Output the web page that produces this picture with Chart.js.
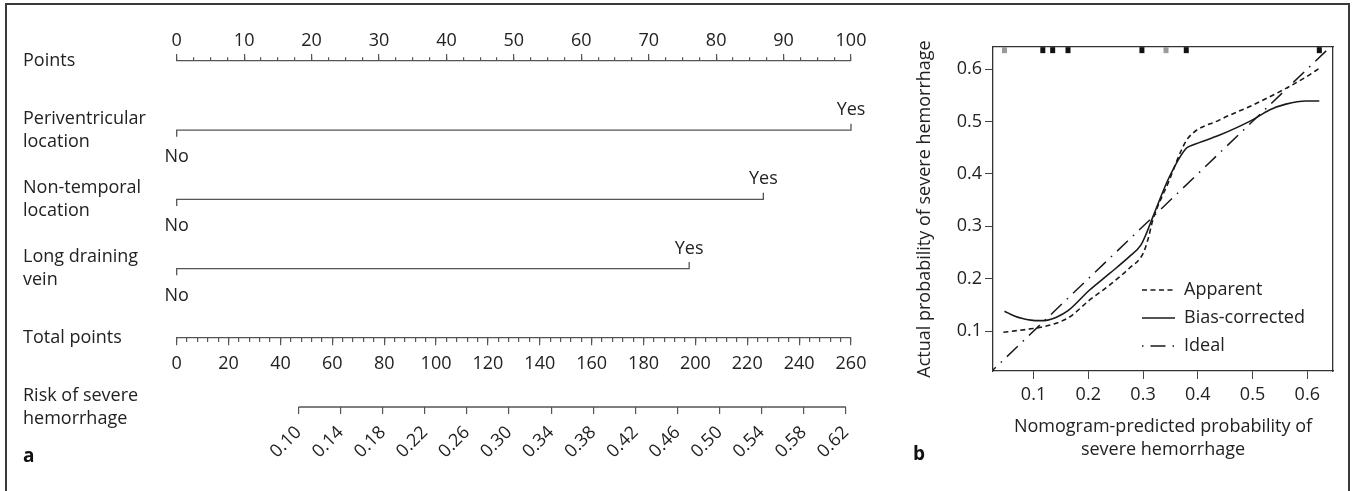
<!DOCTYPE html>
<html>
<head>
<meta charset="utf-8">
<title>Nomogram and calibration curve</title>
<script src="https://cdn.jsdelivr.net/npm/chart.js@4.4.1/dist/chart.umd.min.js"></script>
<style>
  html, body { margin: 0; padding: 0; background: #fff; overflow: hidden; }
  #wrap { position: relative; width: 1355px; height: 491px; }
  #frame { position: absolute; left: 5px; top: 3px; width: 1345px; height: 500px; border: 2px solid #3a3a3a; box-sizing: border-box; }
  canvas { position: absolute; top: 0; }
  #chartA { left: 0; }
  #chartB { left: 900px; }
  .panel { position: absolute; font: bold 19px 'Open Sans', sans-serif; color: #111; line-height: 20px; }
</style>
</head>
<body>
<div id="wrap">
  <div id="frame"></div>
  <canvas id="chartA" width="900" height="491"></canvas>
  <canvas id="chartB" width="455" height="491"></canvas>
  <div class="panel" style="left:23px; top:445px;">a</div>
  <div class="panel" style="left:913px; top:443px;">b</div>
</div>
<script>
// ---- panel a: nomogram ----
var rowLabels = ['Points', ['Periventricular', 'location'], ['Non-temporal', 'location'],
                 ['Long draining', 'vein'], 'Total points', ['Risk of severe', 'hemorrhage']];
var pointsTicks = [0, 10, 20, 30, 40, 50, 60, 70, 80, 90, 100];
var factorLevels = ['No', 'Yes'];
var factorYesPoints = [100, 87, 76];          // points for "Yes" (rows 1-3), "No" = 0
var totalTicks = [0, 20, 40, 60, 80, 100, 120, 140, 160, 180, 200, 220, 240, 260];
var riskTicks = [0.10, 0.14, 0.18, 0.22, 0.26, 0.30, 0.34, 0.38, 0.42, 0.46, 0.50, 0.54, 0.58, 0.62];
var riskTotalPoints = [47, 258];               // total points under the first and last risk tick

// ---- panel b: calibration ----
var xTicksB = [0.1, 0.2, 0.3, 0.4, 0.5, 0.6];
var yTicksB = [0.1, 0.2, 0.3, 0.4, 0.5, 0.6];
var apparentX = [0.045, 0.070, 0.099, 0.120, 0.141, 0.166, 0.202, 0.239, 0.275, 0.300, 0.309, 0.318, 0.348, 0.370, 0.382, 0.440, 0.500, 0.561, 0.598, 0.623];
var apparentY = [0.098, 0.101, 0.105, 0.109, 0.115, 0.127, 0.159, 0.188, 0.220, 0.248, 0.275, 0.312, 0.388, 0.445, 0.468, 0.503, 0.531, 0.563, 0.585, 0.602];
var biasX = [0.047, 0.065, 0.080, 0.095, 0.111, 0.126, 0.141, 0.163, 0.202, 0.239, 0.275, 0.296, 0.306, 0.318, 0.348, 0.379, 0.391, 0.440, 0.500, 0.531, 0.561, 0.598, 0.622];
var biasY = [0.138, 0.129, 0.124, 0.121, 0.120, 0.121, 0.126, 0.139, 0.178, 0.210, 0.242, 0.264, 0.286, 0.318, 0.394, 0.449, 0.455, 0.474, 0.503, 0.522, 0.533, 0.539, 0.539];
var idealXY = [0, 0.7];
var rugX = [0.047, 0.117, 0.135, 0.163, 0.298, 0.342, 0.379, 0.622];
var legendNames = ['Apparent', 'Bias-corrected', 'Ideal'];

// styles
var textColor = '#222';
var axisColor = '#555';
var lineColor = '#1a1a1a';
var rugLight = [0, 5];
Chart.defaults.font.family = "'Open Sans', sans-serif";
Chart.defaults.font.size = 18;
Chart.defaults.color = textColor;

function xy(xs, ys) {
    return xs.map(function(x, i) { return {x: x, y: ys[i]}; });
}
function fixedTicks(list) {
    return function(scale) {
        scale.ticks = list.map(function(v) { return {value: v}; });
    };
}

// risk scale lined up with the total points scale
var riskSlope = (riskTicks[riskTicks.length - 1] - riskTicks[0]) / (riskTotalPoints[1] - riskTotalPoints[0]);
var riskMin = riskTicks[0] - riskTotalPoints[0] * riskSlope;
var riskMax = riskTicks[0] + (totalTicks[totalTicks.length - 1] - riskTotalPoints[0]) * riskSlope;

var rowTick = 0.095; // end tick length in row units

var datasetsA = factorYesPoints.map(function(v, i) {
    var row = i + 1;
    return {
        xAxisID: 'xPts', yAxisID: 'y',
        data: [{x: 0, y: row + rowTick}, {x: 0, y: row}, {x: v, y: row}, {x: v, y: row - rowTick}],
        borderColor: axisColor, borderWidth: 1.3, pointRadius: 0, showLine: true, clip: false
    };
});
datasetsA.push({
    xAxisID: 'xRisk', yAxisID: 'y',
    data: [{x: riskTicks[0], y: 5}, {x: riskTicks[riskTicks.length - 1], y: 5}],
    borderColor: axisColor, borderWidth: 1.3, pointRadius: 0, showLine: true, clip: false
});

// "No" / "Yes" labels at the ends of each factor line
var levelLabels = {
    id: 'levelLabels',
    afterDatasetsDraw: function(chart) {
        var ctx = chart.ctx, xs = chart.scales.xPts, ys = chart.scales.y;
        ctx.save();
        ctx.font = "18px 'Open Sans', sans-serif";
        ctx.fillStyle = textColor;
        ctx.textAlign = 'center';
        ctx.textBaseline = 'alphabetic';
        factorYesPoints.forEach(function(v, i) {
            var yPix = ys.getPixelForValue(i + 1);
            ctx.fillText(factorLevels[0], xs.getPixelForValue(0), yPix + 32);
            ctx.fillText(factorLevels[1], xs.getPixelForValue(v), yPix - 15);
        });
        ctx.restore();
    }
};

var gridA = function(len) {
    return {drawOnChartArea: false, tickLength: len, color: axisColor, lineWidth: 1.2};
};

new Chart(document.getElementById('chartA'), {
    type: 'scatter',
    data: {datasets: datasetsA},
    plugins: [levelLabels],
    options: {
        responsive: false,
        animation: false,
        events: [],
        layout: {padding: {left: 23, right: 49, top: 0, bottom: 84}},
        plugins: {legend: {display: false}, tooltip: {enabled: false}},
        scales: {
            y: {
                type: 'linear', position: 'left', min: 0, max: 5, reverse: true,
                afterBuildTicks: function(s) { s.ticks = rowLabels.map(function(_, i) { return {value: i}; }); },
                afterFit: function(s) { s.width = 153.7; },
                ticks: {
                    crossAlign: 'far', autoSkip: false, color: textColor,
                    font: {size: 18, lineHeight: 1.28},
                    callback: function(v, i) { return rowLabels[i]; }
                },
                grid: {display: false},
                border: {display: false}
            },
            xPts: {
                type: 'linear', position: 'top', weight: 1, min: 0, max: 100,
                afterBuildTicks: fixedTicks(pointsTicks),
                afterFit: function(s) { s.height = 61; },
                ticks: {autoSkip: false, maxRotation: 0, padding: 2, color: textColor},
                grid: gridA(7),
                border: {display: true, color: axisColor, width: 1.3}
            },
            xPtsMinor: {
                type: 'linear', position: 'top', weight: 0, min: 0, max: 100,
                afterFit: function(s) { s.height = 0; },
                ticks: {display: false, stepSize: 2.5},
                grid: gridA(3.7),
                border: {display: false}
            },
            xTot: {
                type: 'linear', position: {y: 4}, min: 0, max: 260,
                afterBuildTicks: fixedTicks(totalTicks),
                ticks: {autoSkip: false, maxRotation: 0, padding: 8, color: textColor},
                grid: gridA(7),
                border: {display: true, color: axisColor, width: 1.3}
            },
            xTotMinor: {
                type: 'linear', position: {y: 4}, min: 0, max: 260,
                ticks: {display: false, stepSize: 4},
                grid: gridA(4),
                border: {display: false}
            },
            xRisk: {
                type: 'linear', position: {y: 5}, min: riskMin, max: riskMax,
                afterBuildTicks: fixedTicks(riskTicks),
                ticks: {
                    autoSkip: false, minRotation: 45, maxRotation: 45, padding: 8, color: textColor,
                    callback: function(v) { return v.toFixed(2); }
                },
                grid: gridA(7),
                border: {display: false}
            }
        }
    }
});

// ---- panel b chart ----
var X_MIN_B = 0.026, X_MAX_B = 0.647, Y_MIN_B = 0.024, Y_MAX_B = 0.642;
var rugY = Y_MAX_B - 0.006;

var legendPlacer = {
    id: 'legendPlacer',
    afterLayout: function(chart) {
        var lg = chart.legend, area = chart.chartArea;
        lg.left = area.left + 139;
        lg.right = area.right;
        lg.top = area.top + 224;
        lg.bottom = chart.height;
        lg.width = lg.right - lg.left;
        lg.height = lg.bottom - lg.top;
    }
};

var boxBorder = {display: true, color: '#333', width: 1.3};

new Chart(document.getElementById('chartB'), {
    type: 'scatter',
    data: {
        datasets: [{
            label: legendNames[0],
            data: xy(apparentX, apparentY),
            showLine: true, borderColor: lineColor, borderWidth: 1.6, borderDash: [5, 3.5],
            pointRadius: 0, cubicInterpolationMode: 'monotone'
        }, {
            label: legendNames[1],
            data: xy(biasX, biasY),
            showLine: true, borderColor: lineColor, borderWidth: 1.6,
            pointRadius: 0, cubicInterpolationMode: 'monotone'
        }, {
            label: legendNames[2],
            data: xy(idealXY, idealXY),
            showLine: true, borderColor: lineColor, borderWidth: 1.5, borderDash: [15, 7, 1.5, 7], borderDashOffset: 22,
            pointRadius: 0
        }, {
            data: rugX.map(function(x) { return {x: x, y: rugY}; }),
            showLine: false, pointStyle: 'line', rotation: 90, pointRadius: 3,
            borderWidth: 5, pointBorderWidth: 5, clip: false,
            pointBorderColor: function(c) { return rugLight.indexOf(c.dataIndex) >= 0 ? '#9a9a9a' : '#111'; }
        }]
    },
    plugins: [legendPlacer],
    options: {
        responsive: false,
        animation: false,
        events: [],
        layout: {padding: 0},
        plugins: {
            tooltip: {enabled: false},
            legend: {
                display: true, position: 'chartArea', align: 'start',
                labels: {
                    usePointStyle: true, pointStyle: 'line', pointStyleWidth: 33,
                    padding: 10, color: textColor, font: {size: 18},
                    generateLabels: function(chart) {
                        var items = Chart.defaults.plugins.legend.labels.generateLabels(chart);
                        return items.map(function(it) {
                            var ds = chart.data.datasets[it.datasetIndex];
                            it.lineDash = ds.borderDash || [];
                            it.lineDashOffset = ds.borderDashOffset || 0;
                            it.lineWidth = ds.borderWidth;
                            it.strokeStyle = ds.borderColor;
                            return it;
                        });
                    },
                    filter: function(item) { return item.datasetIndex < 3; }
                }
            }
        },
        scales: {
            x: {
                type: 'linear', position: 'bottom', min: X_MIN_B, max: X_MAX_B,
                afterBuildTicks: fixedTicks(xTicksB),
                afterFit: function(s) { s.height = 120; },
                ticks: {autoSkip: false, maxRotation: 0, padding: 5, color: textColor,
                        callback: function(v) { return v.toFixed(1); }},
                grid: {drawOnChartArea: false, tickLength: 8, color: '#444'},
                border: boxBorder,
                title: {display: true, text: ['Nomogram-predicted probability of', 'severe hemorrhage'],
                        color: textColor, font: {size: 18, lineHeight: 1.28}, padding: {top: 0, bottom: 29.5}}
            },
            y: {
                type: 'linear', position: 'left', min: Y_MIN_B, max: Y_MAX_B,
                afterBuildTicks: fixedTicks(yTicksB),
                afterFit: function(s) { s.width = 93; },
                ticks: {autoSkip: false, padding: 3, color: textColor,
                        callback: function(v) { return v.toFixed(1); }},
                grid: {drawOnChartArea: false, tickLength: 8, color: '#444'},
                border: boxBorder,
                title: {display: true, text: 'Actual probability of severe hemorrhage',
                        color: textColor, font: {size: 18, lineHeight: 1.28}, padding: {top: 13.5, bottom: 0}}
            },
            xTop: {
                type: 'linear', position: 'top', min: X_MIN_B, max: X_MAX_B,
                afterFit: function(s) { s.height = 47; },
                ticks: {display: false},
                grid: {drawOnChartArea: false, drawTicks: false},
                border: boxBorder
            },
            yRight: {
                type: 'linear', position: 'right', min: Y_MIN_B, max: Y_MAX_B,
                afterFit: function(s) { s.width = 22; },
                ticks: {display: false},
                grid: {drawOnChartArea: false, drawTicks: false},
                border: boxBorder
            }
        }
    }
});
</script>
</body>
</html>
